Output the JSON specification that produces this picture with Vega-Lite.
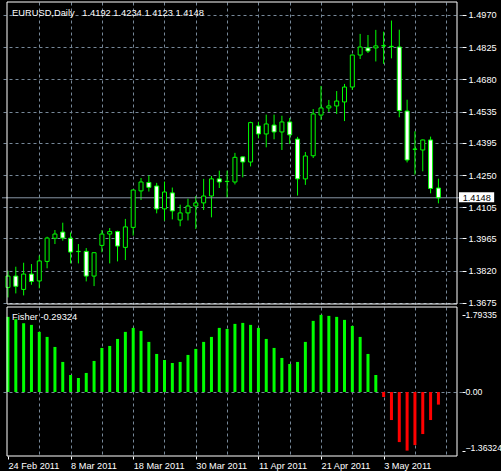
{
  "$schema": "https://vega.github.io/schema/vega-lite/v6.json",
  "background": "#000000",
  "padding": {"left": 1, "top": 1, "right": 0, "bottom": 0},
  "bounds": "flush",
  "spacing": 3,
  "config": {
    "view": {"stroke": null},
    "axis": {
      "labelFont": "Liberation Sans",
      "labelFontSize": 9.2,
      "labelColor": "#ffffff",
      "tickColor": "#ffffff",
      "gridColor": "#778899",
      "gridDash": [3, 3],
      "gridWidth": 1,
      "gridOpacity": 1,
      "domain": false,
      "labelFlush": false,
      "labelOverlap": false
    }
  },
  "datasets": {
    "candles": [
      {"i": 0, "o": 1.3745, "h": 1.3820, "l": 1.3700, "c": 1.3796},
      {"i": 1, "o": 1.3796, "h": 1.3838, "l": 1.3718, "c": 1.3750},
      {"i": 2, "o": 1.3736, "h": 1.3856, "l": 1.3709, "c": 1.3805},
      {"i": 3, "o": 1.3805, "h": 1.3850, "l": 1.3757, "c": 1.3772},
      {"i": 4, "o": 1.3774, "h": 1.3888, "l": 1.3741, "c": 1.3864},
      {"i": 5, "o": 1.3862, "h": 1.3973, "l": 1.3831, "c": 1.3967},
      {"i": 6, "o": 1.3966, "h": 1.4003, "l": 1.3940, "c": 1.3985},
      {"i": 7, "o": 1.3994, "h": 1.4036, "l": 1.3955, "c": 1.3967},
      {"i": 8, "o": 1.3966, "h": 1.3992, "l": 1.3853, "c": 1.3904},
      {"i": 9, "o": 1.3906, "h": 1.3940, "l": 1.3853, "c": 1.3907},
      {"i": 10, "o": 1.3907, "h": 1.3922, "l": 1.3772, "c": 1.3796},
      {"i": 11, "o": 1.3796, "h": 1.3903, "l": 1.3751, "c": 1.3901},
      {"i": 12, "o": 1.3934, "h": 1.4003, "l": 1.3903, "c": 1.3985},
      {"i": 13, "o": 1.3985, "h": 1.4012, "l": 1.3853, "c": 1.3996},
      {"i": 14, "o": 1.3996, "h": 1.4000, "l": 1.3862, "c": 1.3931},
      {"i": 15, "o": 1.3925, "h": 1.4053, "l": 1.3868, "c": 1.4017},
      {"i": 16, "o": 1.4015, "h": 1.4185, "l": 1.3978, "c": 1.4183},
      {"i": 17, "o": 1.4179, "h": 1.4237, "l": 1.4138, "c": 1.4219},
      {"i": 18, "o": 1.4217, "h": 1.4248, "l": 1.4176, "c": 1.4195},
      {"i": 19, "o": 1.4201, "h": 1.4215, "l": 1.4078, "c": 1.4098},
      {"i": 20, "o": 1.4098, "h": 1.4221, "l": 1.4045, "c": 1.4174},
      {"i": 21, "o": 1.4170, "h": 1.4194, "l": 1.4051, "c": 1.4089},
      {"i": 22, "o": 1.4048, "h": 1.4117, "l": 1.4020, "c": 1.4080},
      {"i": 23, "o": 1.4080, "h": 1.4144, "l": 1.4046, "c": 1.4111},
      {"i": 24, "o": 1.4111, "h": 1.4156, "l": 1.4008, "c": 1.4125},
      {"i": 25, "o": 1.4125, "h": 1.4233, "l": 1.4093, "c": 1.4156},
      {"i": 26, "o": 1.4156, "h": 1.4246, "l": 1.4060, "c": 1.4233},
      {"i": 27, "o": 1.4233, "h": 1.4270, "l": 1.4192, "c": 1.4219},
      {"i": 28, "o": 1.4221, "h": 1.4270, "l": 1.4147, "c": 1.4222},
      {"i": 29, "o": 1.4219, "h": 1.4350, "l": 1.4208, "c": 1.4330},
      {"i": 30, "o": 1.4332, "h": 1.4334, "l": 1.4240, "c": 1.4309},
      {"i": 31, "o": 1.4309, "h": 1.4490, "l": 1.4289, "c": 1.4486},
      {"i": 32, "o": 1.4471, "h": 1.4490, "l": 1.4415, "c": 1.4435},
      {"i": 33, "o": 1.4435, "h": 1.4522, "l": 1.4375, "c": 1.4480},
      {"i": 34, "o": 1.4475, "h": 1.4522, "l": 1.4411, "c": 1.4444},
      {"i": 35, "o": 1.4444, "h": 1.4517, "l": 1.4363, "c": 1.4489},
      {"i": 36, "o": 1.4489, "h": 1.4507, "l": 1.4390, "c": 1.4431},
      {"i": 37, "o": 1.4412, "h": 1.4422, "l": 1.4158, "c": 1.4233},
      {"i": 38, "o": 1.4233, "h": 1.4354, "l": 1.4206, "c": 1.4336},
      {"i": 39, "o": 1.4337, "h": 1.4547, "l": 1.4327, "c": 1.4525},
      {"i": 40, "o": 1.4520, "h": 1.4651, "l": 1.4498, "c": 1.4552},
      {"i": 41, "o": 1.4552, "h": 1.4588, "l": 1.4534, "c": 1.4561},
      {"i": 42, "o": 1.4561, "h": 1.4628, "l": 1.4525, "c": 1.4583},
      {"i": 43, "o": 1.4579, "h": 1.4660, "l": 1.4493, "c": 1.4646},
      {"i": 44, "o": 1.4646, "h": 1.4792, "l": 1.4633, "c": 1.4790},
      {"i": 45, "o": 1.4790, "h": 1.4885, "l": 1.4772, "c": 1.4826},
      {"i": 46, "o": 1.4822, "h": 1.4880, "l": 1.4799, "c": 1.4808},
      {"i": 47, "o": 1.4822, "h": 1.4903, "l": 1.4761, "c": 1.4831},
      {"i": 48, "o": 1.4831, "h": 1.4895, "l": 1.4750, "c": 1.4832},
      {"i": 49, "o": 1.4828, "h": 1.4945, "l": 1.4775, "c": 1.4829},
      {"i": 50, "o": 1.4826, "h": 1.4904, "l": 1.4510, "c": 1.4540},
      {"i": 51, "o": 1.4538, "h": 1.4589, "l": 1.4307, "c": 1.4318},
      {"i": 52, "o": 1.4366, "h": 1.4447, "l": 1.4252, "c": 1.4367},
      {"i": 53, "o": 1.4363, "h": 1.4410, "l": 1.4267, "c": 1.4408},
      {"i": 54, "o": 1.4408, "h": 1.4423, "l": 1.4168, "c": 1.4190},
      {"i": 55, "o": 1.4192, "h": 1.4234, "l": 1.4123, "c": 1.4148}
    ],
    "fisher": [
      {"i": 0, "v": 1.747}, {"i": 1, "v": 1.693}, {"i": 2, "v": 1.599}, {"i": 3, "v": 1.561},
      {"i": 4, "v": 1.398}, {"i": 5, "v": 1.281}, {"i": 6, "v": 1.048}, {"i": 7, "v": 0.699},
      {"i": 8, "v": 0.396}, {"i": 9, "v": 0.326}, {"i": 10, "v": 0.443}, {"i": 11, "v": 0.722},
      {"i": 12, "v": 1.025}, {"i": 13, "v": 1.071}, {"i": 14, "v": 1.234}, {"i": 15, "v": 1.398},
      {"i": 16, "v": 1.491}, {"i": 17, "v": 1.421}, {"i": 18, "v": 1.165}, {"i": 19, "v": 0.885},
      {"i": 20, "v": 0.745}, {"i": 21, "v": 0.675}, {"i": 22, "v": 0.699}, {"i": 23, "v": 0.862},
      {"i": 24, "v": 1.002}, {"i": 25, "v": 1.165}, {"i": 26, "v": 1.281}, {"i": 27, "v": 1.491},
      {"i": 28, "v": 1.467}, {"i": 29, "v": 1.584}, {"i": 30, "v": 1.607}, {"i": 31, "v": 1.561},
      {"i": 32, "v": 1.491}, {"i": 33, "v": 1.234}, {"i": 34, "v": 1.025}, {"i": 35, "v": 0.792},
      {"i": 36, "v": 0.652}, {"i": 37, "v": 0.699}, {"i": 38, "v": 1.165}, {"i": 39, "v": 1.654},
      {"i": 40, "v": 1.79335}, {"i": 41, "v": 1.770}, {"i": 42, "v": 1.747}, {"i": 43, "v": 1.677},
      {"i": 44, "v": 1.537}, {"i": 45, "v": 1.281}, {"i": 46, "v": 0.885}, {"i": 47, "v": 0.396},
      {"i": 48, "v": -0.116}, {"i": 49, "v": -0.652}, {"i": 50, "v": -1.165}, {"i": 51, "v": -1.36324},
      {"i": 52, "v": -1.234}, {"i": 53, "v": -0.978}, {"i": 54, "v": -0.652}, {"i": 55, "v": -0.29324}
    ]
  },
  "vconcat": [
    {
      "width": 460,
      "height": 302,
      "layer": [
        {
          "data": {"name": "candles"},
          "mark": {"type": "rule", "color": "#00ff00", "strokeWidth": 1},
          "encoding": {
            "x": {
              "field": "i", "type": "quantitative",
              "scale": {"domain": [-0.125, 57.375], "nice": false, "zero": false},
              "axis": {"title": null, "values": [4, 8, 12, 16, 20, 24, 28, 32, 36, 40, 44, 48, 52, 56], "tickCount": 100, "labels": false, "ticks": false, "grid": true, "labelOverlap": false}
            },
            "y": {
              "field": "l", "type": "quantitative",
              "scale": {"domain": [1.36704, 1.50284], "nice": false, "zero": false},
              "axis": {"title": null, "orient": "right", "values": [1.3675, 1.382, 1.3965, 1.4105, 1.425, 1.4395, 1.4535, 1.468, 1.4825, 1.497], "tickCount": 100, "format": ".4f", "tickSize": 4, "labelPadding": 2, "grid": true, "labelOverlap": false, "labelFlush": false}
            },
            "y2": {"field": "h"}
          }
        },
        {
          "data": {"values": [{}]},
          "mark": {"type": "rule", "color": "#8796a5", "strokeWidth": 1},
          "encoding": {"y": {"datum": 1.4148}}
        },
        {
          "data": {"name": "candles"},
          "mark": {"type": "bar", "size": 4, "stroke": "#00ff00", "strokeWidth": 1},
          "encoding": {
            "x": {"field": "i", "type": "quantitative"},
            "y": {"field": "o", "type": "quantitative"},
            "y2": {"field": "c"},
            "fill": {"condition": {"test": "datum.c >= datum.o", "value": "#000000"}, "value": "#ffffff"}
          }
        },
        {
          "data": {"values": [{}]},
          "mark": {"type": "rect", "fill": "#000000", "fillOpacity": 0, "stroke": "#ffffff", "strokeWidth": 1},
          "encoding": {"x": {"datum": -0.125}, "x2": {"datum": 57.375}, "y": {"datum": 1.36704}, "y2": {"datum": 1.50284}}
        },
        {
          "data": {"values": [{"t": "EURUSD,Daily\u00a0\u00a0 1.4192 1.4234 1.4123 1.4148"}]},
          "mark": {"type": "text", "align": "left", "baseline": "middle", "color": "#ffffff", "font": "Liberation Sans", "fontSize": 9.3},
          "encoding": {"x": {"datum": 0.525}, "y": {"datum": 1.49805}, "text": {"field": "t"}}
        },
        {
          "data": {"values": [{}]},
          "mark": {"type": "rect", "fill": "#ffffff"},
          "encoding": {"x": {"datum": 57.625}, "x2": {"datum": 62.125}, "y": {"datum": 1.41724}, "y2": {"datum": 1.41274}}
        },
        {
          "data": {"values": [{"t": "1.4148"}]},
          "mark": {"type": "text", "align": "left", "baseline": "middle", "color": "#000000", "font": "Liberation Sans", "fontSize": 9.2},
          "encoding": {"x": {"datum": 58.1}, "y": {"datum": 1.4148}, "text": {"field": "t"}}
        }
      ]
    },
    {
      "width": 460,
      "height": 149,
      "layer": [
        {
          "data": {"name": "fisher"},
          "mark": {"type": "bar", "size": 3},
          "encoding": {
            "x": {
              "field": "i", "type": "quantitative",
              "scale": {"domain": [-0.125, 57.375], "nice": false, "zero": false},
              "axis": {
                "title": null,
                "values": [0, 4, 8, 12, 16, 20, 24, 28, 32, 36, 40, 44, 48, 52, 56],
                "tickCount": 100,
                "labelExpr": "(datum.value % 8 === 0 && datum.value <= 48) ? ['24 Feb 2011','8 Mar 2011','18 Mar 2011','30 Mar 2011','11 Apr 2011','21 Apr 2011','3 May 2011'][datum.value / 8] : ''",
                "labelAlign": "left",
                "labelBaseline": "top",
                "labelOverlap": false,
                "labelFlush": false,
                "tickSize": 3,
                "labelPadding": 2,
                "grid": true,
                "gridOpacity": {"condition": {"test": "datum.value > 0", "value": 1}, "value": 0},
                "tickOpacity": {"condition": {"test": "datum.value % 8 === 0 && datum.value <= 48", "value": 1}, "value": 0}
              }
            },
            "y": {
              "field": "v", "type": "quantitative",
              "scale": {"domain": [-1.4884, 1.9767], "nice": false, "zero": false},
              "axis": {
                "title": null,
                "orient": "right",
                "values": [-1.36324, 0, 1.79335],
                "tickCount": 100,
                "labelExpr": "datum.value === 0 ? '0.00' : format(datum.value, '.5f')",
                "labelOverlap": false,
                "labelFlush": false,
                "labelFontSize": 8.7,
                "tickSize": 3,
                "labelPadding": 0,
                "grid": true,
                "gridOpacity": {"condition": {"test": "datum.value === 0", "value": 1}, "value": 0},
                "labelBaseline": {"condition": {"test": "datum.value < -1", "value": "alphabetic"}, "value": "middle"}
              }
            },
            "y2": {"datum": 0},
            "color": {"condition": {"test": "datum.v >= 0", "value": "#00ff00"}, "value": "#ff0000"}
          }
        },
        {
          "data": {"values": [{}]},
          "mark": {"type": "rect", "fill": "#000000", "fillOpacity": 0, "stroke": "#ffffff", "strokeWidth": 1},
          "encoding": {"x": {"datum": -0.125}, "x2": {"datum": 57.375}, "y": {"datum": -1.4884}, "y2": {"datum": 1.9767}}
        },
        {
          "data": {"values": [{"t": "Fisher -0.29324"}]},
          "mark": {"type": "text", "align": "left", "baseline": "middle", "color": "#ffffff", "font": "Liberation Sans", "fontSize": 9.3},
          "encoding": {"x": {"datum": 0.525}, "y": {"datum": 1.744}, "text": {"field": "t"}}
        }
      ]
    }
  ]
}
